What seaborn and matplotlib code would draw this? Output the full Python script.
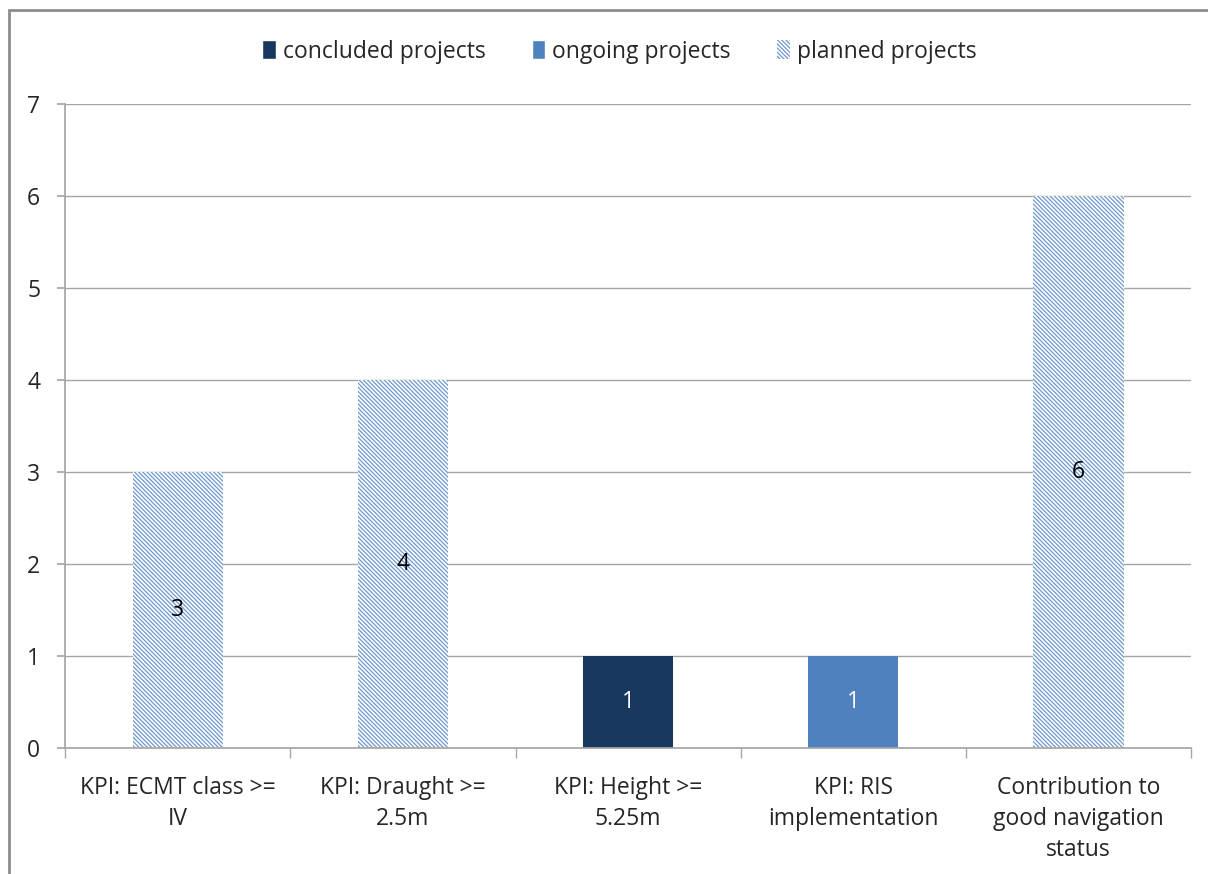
import pandas as pd
import numpy as np
import matplotlib.pyplot as plt
import seaborn as sns
from matplotlib.patches import Rectangle, Patch

sns.set_theme(style="white")
plt.rcParams["font.family"] = ["Open Sans", "DejaVu Sans"]
plt.rcParams["hatch.linewidth"] = 0.9

# Data
categories = ["KPI: ECMT class >=\nIV", "KPI: Draught >=\n2.5m", "KPI: Height >=\n5.25m",
              "KPI: RIS\nimplementation", "Contribution to\ngood navigation\nstatus"]
concluded = [0, 0, 1, 0, 0]
ongoing = [0, 0, 0, 1, 0]
planned = [3, 4, 0, 0, 6]
series_names = ["concluded projects", "ongoing projects", "planned projects"]
colors = {"concluded projects": "#17375e", "ongoing projects": "#4f81bd", "planned projects": "#4f81bd"}
hatch = "\\" * 8

df = pd.DataFrame({"category": categories * 3,
                   "series": np.repeat(series_names, len(categories)),
                   "value": concluded + ongoing + planned})

fig = plt.figure(figsize=(12.08, 8.74), dpi=100)
ax = fig.add_axes([0.054, 0.144, 0.932, 0.737])

sns.barplot(data=df, x="category", y="value", hue="series", palette=colors,
            dodge=False, width=0.4, saturation=1, ax=ax, legend=False)

# hatch the planned bars, label all nonzero bars
for container, name in zip(ax.containers, series_names):
    for bar in container:
        if name == "planned projects":
            bar.set_facecolor("white")
            bar.set_edgecolor("#6f97cf")
            bar.set_hatch(hatch)
        bar.set_linewidth(0)
        h = bar.get_height()
        if h > 0:
            ax.text(bar.get_x() + bar.get_width() / 2, h / 2, f"{h:g}",
                    ha="center", va="center", fontsize=16.5,
                    color="white" if name != "planned projects" else "black")

ax.set_ylim(0, 7)
ax.set_xlim(-0.5, len(categories) - 0.5)
ax.set_yticks(range(0, 8))
ax.yaxis.grid(True, color="#a6a6a6", linewidth=1)
ax.set_axisbelow(True)
ax.set_xlabel("")
ax.set_ylabel("")
for s in ["top", "right"]:
    ax.spines[s].set_visible(False)
ax.spines["left"].set_color("#a6a6a6")
ax.spines["bottom"].set_color("#a6a6a6")
ax.tick_params(axis="y", labelsize=16.5, length=6, color="#a6a6a6", left=True, pad=12)
ax.tick_params(axis="x", labelsize=16.5, length=0, pad=20)
ax.set_xticks(range(len(categories)))
ax.set_xticklabels(categories, linespacing=1.4)
# category boundary ticks
ax.set_xticks(np.arange(-0.5, len(categories)), minor=True)
ax.tick_params(axis="x", which="minor", length=7, color="#a6a6a6", bottom=True)

handles = [Patch(facecolor="#17375e", label="concluded projects"),
           Patch(facecolor="#4f81bd", label="ongoing projects"),
           Patch(facecolor="white", edgecolor="#6f97cf", hatch=hatch, linewidth=0,
                 label="planned projects")]
fig.legend(handles=handles, loc="center", bbox_to_anchor=(0.513, 0.941), ncol=3,
           frameon=False, fontsize=16.5, handlelength=0.6, handleheight=0.85,
           handletextpad=0.3, columnspacing=2.0)

# outer frame
fig.patches.append(Rectangle((9 / 1208, -0.1), 1.2, 1 - 10 / 874 + 0.1,
                             transform=fig.transFigure, fill=False,
                             edgecolor="#8c8c8c", linewidth=2, zorder=0))

fig.savefig("out.png", dpi=100)
